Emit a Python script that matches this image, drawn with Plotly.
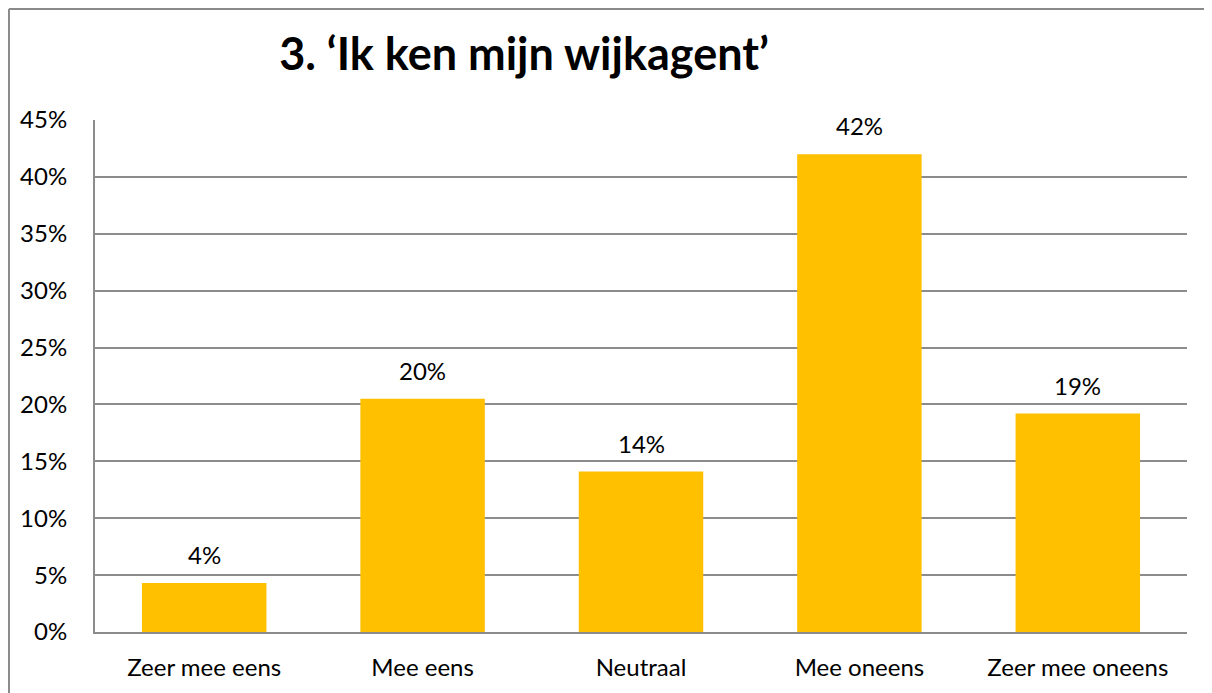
import plotly.graph_objects as go

categories = ["Zeer mee eens", "Mee eens", "Neutraal", "Mee oneens", "Zeer mee oneens"]
values = [0.043, 0.205, 0.141, 0.42, 0.192]
labels = ["4%", "20%", "14%", "42%", "19%"]
tick_vals = [0, 0.05, 0.10, 0.15, 0.20, 0.25, 0.30, 0.35, 0.40, 0.45]
tick_text = ["0%", "5%", "10%", "15%", "20%", "25%", "30%", "35%", "40%", "45%"]

font_family = "Lato, 'Open Sans', sans-serif"
grid_color = "#8c8c8c"

fig = go.Figure()

fig.add_trace(
    go.Bar(
        x=categories,
        y=values,
        marker=dict(color="#FFC000", line=dict(width=0)),
        hoverinfo="skip",
    )
)

# value labels above the bars
for cat, val, lab in zip(categories, values, labels):
    fig.add_annotation(
        x=cat, y=val, text=lab, showarrow=False,
        yanchor="bottom", yshift=12,
        font=dict(family=font_family, size=24, color="#000000"),
    )

# outer chart border: only top and left edges are inside the crop
fig.add_shape(
    type="line", xref="paper", yref="paper",
    x0=-0.0788, x1=1.05, y0=1.2168, y1=1.2168,
    line=dict(color="#8a8a8a", width=2), layer="below",
)
fig.add_shape(
    type="line", xref="paper", yref="paper",
    x0=-0.0788, x1=-0.0788, y0=-0.2, y1=1.2168,
    line=dict(color="#8a8a8a", width=2), layer="below",
)

# page body adds 8px, so the figure is a bit smaller than the window
fig.update_layout(
    width=1204,
    height=685,
    margin=dict(l=87, r=25, t=112, b=61),
    paper_bgcolor="white",
    plot_bgcolor="white",
    showlegend=False,
    bargap=0.43,
    title=dict(
        text="<b>3. ‘Ik ken mijn wijkagent’</b>",
        x=0.4286, xanchor="center", xref="container",
        y=0.932, yanchor="middle",
        font=dict(family=font_family, size=45, color="#000000"),
    ),
    font=dict(family=font_family, size=24, color="#000000"),
)

fig.update_xaxes(
    showline=True, linecolor=grid_color, linewidth=2,
    showgrid=False, ticks="", ticklabelstandoff=13,
    tickfont=dict(family=font_family, size=24, color="#000000"),
)
fig.update_yaxes(
    range=[0, 0.45], tickvals=tick_vals, ticktext=tick_text,
    showgrid=True, gridcolor=grid_color, gridwidth=1.5,
    showline=True, linecolor=grid_color, linewidth=2,
    zeroline=False, ticks="", ticklabelstandoff=21,
    tickfont=dict(family=font_family, size=24, color="#000000"),
)

fig.write_html("out.html")
